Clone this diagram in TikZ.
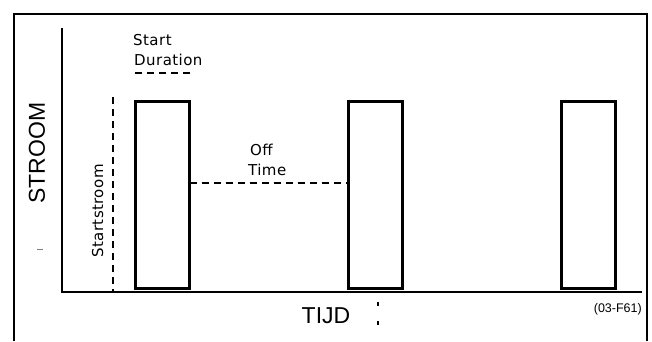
\documentclass[tikz,border=0pt]{standalone}
\usepackage{fontspec}
\setmainfont{Liberation Sans}
\newfontfamily\dvs[LetterSpace=3]{DejaVu Sans}
\begin{document}
\begin{tikzpicture}[x=1pt,y=-1pt,
  pulse/.style={draw,line width=2.6pt,minimum width=54pt,minimum height=187pt,inner sep=0pt,outer sep=0pt},
  dline/.style={line width=1.2pt,dash pattern=on 7pt off 5pt},
  lbl/.style={inner sep=0pt,font=\dvs\fontsize{15}{18}\selectfont},
  big/.style={inner sep=0pt,font=\fontsize{23}{26}\selectfont}]
\useasboundingbox (0,0) rectangle (652,341);
% frame
\draw[line width=2pt] (14,341) -- (14,14) -- (647,14) -- (647,341);
% axes
\coordinate (ytop) at (62,28);
\coordinate (org) at (62,292);
\coordinate (xend) at (642,292);
\draw[line width=1.5pt] (ytop) -- (org) -- (xend);
% pulses
\node[pulse] (r1) at (162.5,195) {};
\node[pulse] (r2) at (375.5,195) {};
\node[pulse] (r3) at (588.5,195) {};
% start current dashed vertical
\coordinate (sv1) at (113,97);
\coordinate (sv2) at (113,292);
\draw[dline] (sv1) -- (sv2);
% start duration
\node[lbl,anchor=base west] (sd1) at (133,45) {Start};
\node[lbl,anchor=base west] (sd2) at (134,65) {Duration};
\coordinate (sda) at (135,73);
\coordinate (sdb) at (194,73);
\draw[dline] (sda) -- (sdb);
% off time
\node[lbl,anchor=base west] (ot1) at (250,155) {Off};
\node[lbl,anchor=base west] (ot2) at (248,175) {Time};
\draw[dline] (r1.east |- 0,183) -- (r2.west |- 0,183);
% axis labels
\node[big,rotate=90] (yl) at (37,153) {STROOM};
\node[lbl,rotate=90,anchor=base west] (ss) at (103,258) {Startstroom};
\node[big] (xl) at (326,316) {TIJD};
\node[inner sep=0pt,font=\fontsize{12.5}{14}\selectfont,anchor=east] (ref) at (642,309) {(03-F61)};
% stray marks
\fill (377,302) rectangle (379,306);
\fill (377,321) rectangle (379,325);
\draw[line width=0.8pt,gray] (37,249) -- (43,249);
\end{tikzpicture}
\end{document}
